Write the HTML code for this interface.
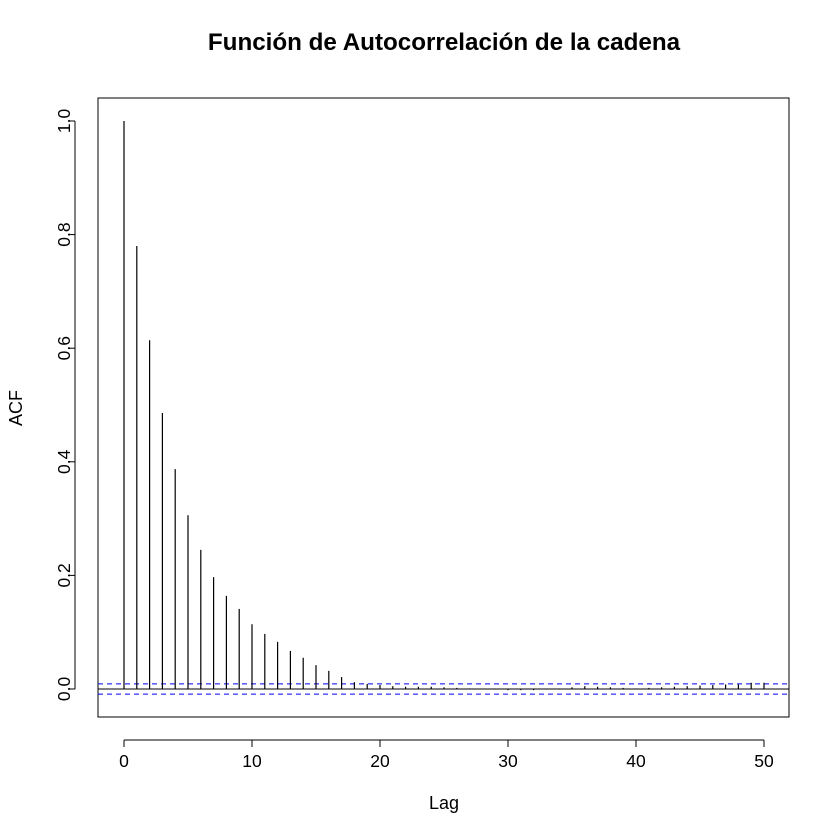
<!DOCTYPE html>
<html><head><meta charset="utf-8"><style>body{margin:0;background:#fff}svg{display:block;font-family:"Liberation Sans",sans-serif}</style></head>
<body>
<svg id="c" width="840" height="840">
<text x="444" y="50" text-anchor="middle" font-size="24.2" font-weight="bold">Función de Autocorrelación de la cadena</text>
<rect x="98" y="98" width="691" height="619" fill="none" stroke="#000"/>
<text x="444" y="809" text-anchor="middle" font-size="18">Lag</text>
<text transform="translate(22,408) rotate(-90)" text-anchor="middle" font-size="18">ACF</text>
<g id="g"></g>
</svg>
<script>
const lags=[];for(let i=0;i<=50;i++)lags.push(i);
const acf=[1,0.78,0.614,0.486,0.387,0.306,0.245,0.197,0.164,0.141,0.114,0.097,0.083,0.067,0.055,0.042,0.032,0.021,0.012,0.009,0.007,0.005,0.004,0.004,0.004,0.003,0.002,0.001,0.0,-0.001,-0.002,-0.002,-0.002,-0.001,0.001,0.003,0.005,0.004,0.003,0.002,0.001,0.002,0.003,0.004,0.005,0.006,0.007,0.008,0.008,0.011,0.011];
const xTicks=[0,10,20,30,40,50];
const yTicks=[0,0.2,0.4,0.6,0.8,1.0];
const ci=0.009;
const X=v=>124+v*12.8, Y=v=>689-v*568;
const g=document.getElementById('g'),NS='http://www.w3.org/2000/svg';
function el(t,a){const e=document.createElementNS(NS,t);for(const k in a)e.setAttribute(k,a[k]);g.appendChild(e);return e;}
let e=el('line',{x1:X(0),x2:X(50),y1:740,y2:740,stroke:'#000'});


xTicks.forEach(t=>{let l=el('line',{x1:X(t),x2:X(t),y1:740,y2:747,stroke:'#000'});


let s=el('text',{x:X(t),y:767,'text-anchor':'middle','font-size':'17.5'});s.textContent=t;

});
e=el('line',{x1:75,x2:75,y1:Y(0),y2:Y(1),stroke:'#000'});


yTicks.forEach(t=>{let l=el('line',{x1:68,x2:75,y1:Y(t),y2:Y(t),stroke:'#000'});


let s=el('text',{x:0,y:0,'text-anchor':'middle','font-size':'17.5',transform:`translate(70,${Y(t)}) rotate(-90)`});s.textContent=t.toFixed(1);

});
e=el('line',{x1:98,x2:789,y1:Y(0),y2:Y(0),stroke:'#000'});


[ci,-ci].forEach(c=>{let l=el('line',{x1:98,x2:789,y1:Y(c),y2:Y(c),stroke:'#00f','stroke-dasharray':'5,4'});

});
lags.forEach((k,i)=>{let l=el('line',{x1:X(k),x2:X(k),y1:Y(0),y2:Y(acf[i]),stroke:'#000','stroke-width':1.2});

});
</script>
</body></html>
